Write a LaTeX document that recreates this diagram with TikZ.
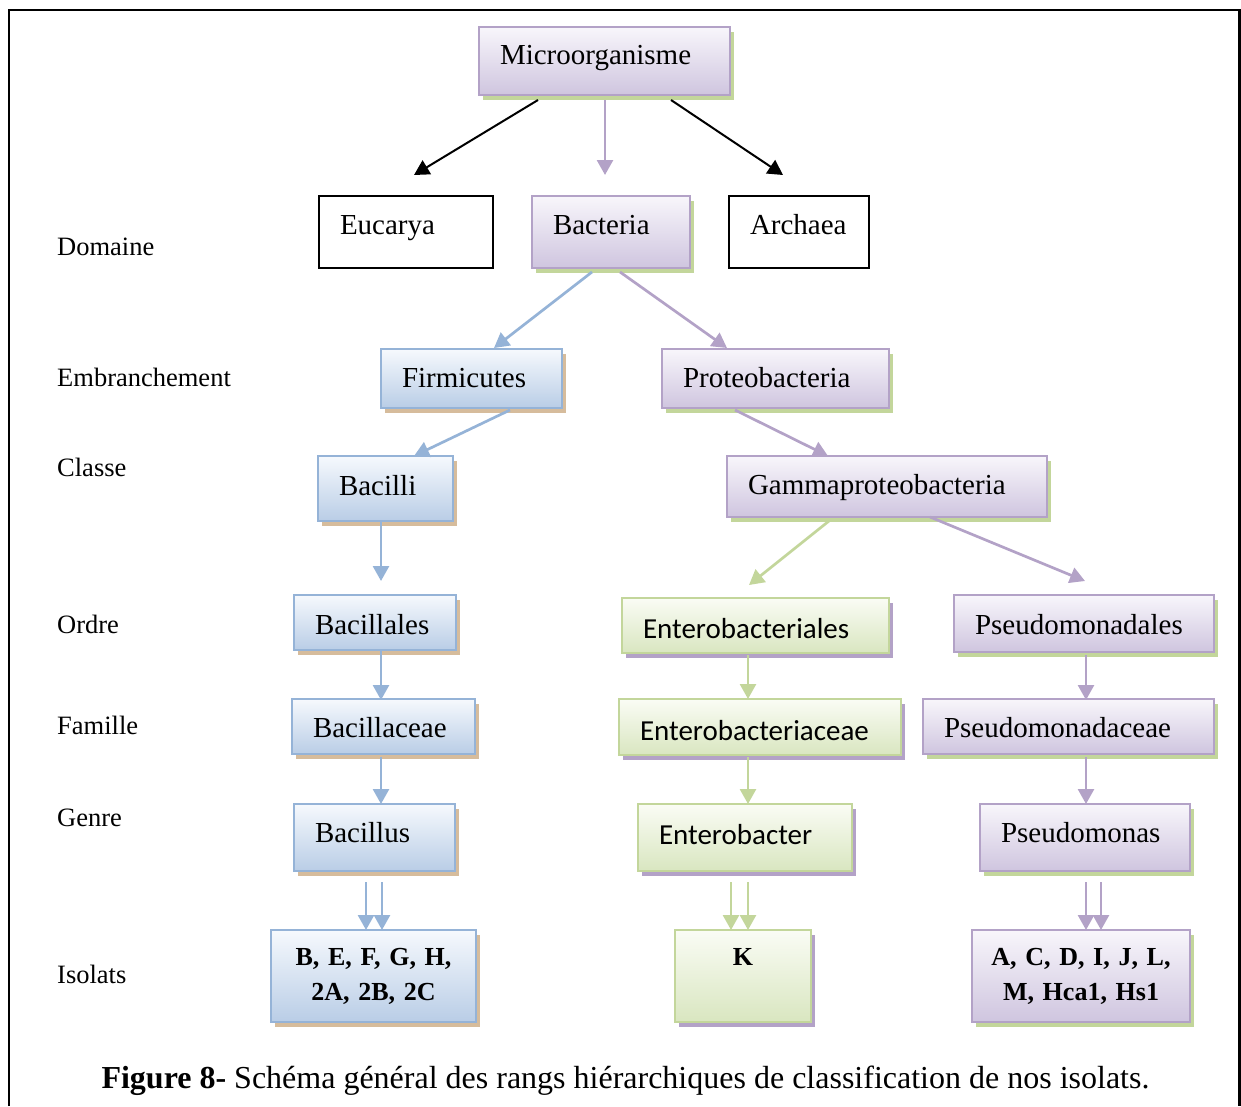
\documentclass[tikz,border=0pt]{standalone}
\usepackage{fontspec}
\setmainfont{Liberation Serif}
\newfontfamily\calibri{Carlito}
\usetikzlibrary{arrows.meta}

\definecolor{lilac}{HTML}{B3A2C7}
\definecolor{lilacHi}{HTML}{F8F6FB}
\definecolor{lilacLo}{HTML}{CFC5DF}
\definecolor{sky}{HTML}{95B3D7}
\definecolor{skyHi}{HTML}{F6F9FD}
\definecolor{skyLo}{HTML}{B9CDE6}
\definecolor{leaf}{HTML}{C3D69B}
\definecolor{leafHi}{HTML}{FAFCF5}
\definecolor{leafLo}{HTML}{D9E6C0}
\definecolor{sand}{HTML}{D6BC9C}

\tikzset{
  box/.style={draw, line width=2.5pt, anchor=north west, outer sep=0pt,
    inner xsep=21pt, inner ysep=0pt, align=left,
    text height=20pt, text depth=2pt, font=\fontsize{29}{34}\selectfont},
  dims/.style 2 args={text width=#1pt, minimum height=#2pt},
  low/.style={text height=#1pt, text depth=0pt},
  plainbox/.style={box, draw=black, line width=1.8pt, fill=white},
  lilacbox/.style={box, draw=lilac, top color=lilacHi, bottom color=lilacLo,
    preaction={fill=leaf, transform canvas={shift={(4pt,-5pt)}}}},
  skybox/.style={box, draw=sky, top color=skyHi, bottom color=skyLo,
    preaction={fill=sand, transform canvas={shift={(4pt,-5pt)}}}},
  leafbox/.style={box, draw=leaf, top color=leafHi, bottom color=leafLo,
    preaction={fill=lilac, transform canvas={shift={(4pt,-5pt)}}},
    font=\fontsize{29}{34}\calibri},
  isolat/.style={inner xsep=10pt, align=center, text height={}, text depth={},
    font=\fontsize{26}{35}\selectfont\bfseries},
  rank/.style={anchor=west, inner sep=0pt, font=\fontsize{26.5}{30}\selectfont},
  link/.style={->, line width=2.7pt},
  blk/.style={->, line width=2pt, black},
}

\begin{document}
\begin{tikzpicture}[x=1pt,y=-1pt,>={Triangle[width=16pt,length=15pt]}]
  \useasboundingbox (0,0) rectangle (1241,1106);
  \draw[line width=2.5pt] (9,1106) -- (9,10) -- (1239.5,10) -- (1239.5,1106);

  % rangs
  \node[rank] (domaine) at (57,247) {Domaine};
  \node[rank] (embr) at (57,377) {Embranchement};
  \node[rank] (classe) at (57,467) {Classe};
  \node[rank] (ordre) at (57,624) {Ordre};
  \node[rank] (famille) at (57,725) {Famille};
  \node[rank] (genre) at (57,818) {Genre};
  \node[rank] (isolats) at (57,974) {Isolats};

  % boites
  \node[lilacbox, dims={209}{68}, text depth=14pt] (micro) at (479,27) {Microorganisme};
  \node[plainbox, dims={132}{72}, text depth=16pt] (eucarya) at (319,196) {Eucarya};
  \node[lilacbox, dims={116}{72}, text depth=16pt] (bacteria) at (532,196) {Bacteria};
  \node[plainbox, dims={98}{72}, text depth=16pt] (archaea) at (729,196) {Archaea};
  \node[skybox, dims={139}{59}] (firmicutes) at (381,349) {Firmicutes};
  \node[lilacbox, dims={185}{59}] (proteo) at (662,349) {Proteobacteria};
  \node[skybox, dims={93}{65}, text depth=7pt] (bacilli) at (318,456) {Bacilli};
  \node[lilacbox, dims={278}{61}, text depth=5pt] (gamma) at (727,456) {Gammaproteobacteria};
  \node[skybox, dims={120}{55}, low=24] (bacillales) at (294,595) {Bacillales};
  \node[leafbox, dims={225}{55}, low=26] (enterales) at (622,598) {Enterobacteriales};
  \node[lilacbox, dims={218}{57}, low=22] (pseudales) at (954,595) {Pseudomonadales};
  \node[skybox, dims={141}{55}, low=22] (bacillaceae) at (292,699) {Bacillaceae};
  \node[leafbox, dims={240}{56}, low=27] (enteraceae) at (619,699) {Enterobacteriaceae};
  \node[lilacbox, dims={249}{55}, low=22] (pseudaceae) at (923,699) {Pseudomonadaceae};
  \node[skybox, dims={119}{67}, text depth=11pt] (bacillus) at (294,804) {Bacillus};
  \node[leafbox, dims={172}{67}, text depth=7pt] (enterobacter) at (638,804) {Enterobacter};
  \node[lilacbox, dims={168}{67}, text depth=11pt] (pseudomonas) at (980,804) {Pseudomonas};
  \node[skybox, isolat, dims={185}{92}] (isoBac) at (271,930) {B, E, F, G, H,\\2A, 2B, 2C};
  \node[leafbox, isolat, dims={116}{92}, text height=20pt, text depth=42pt] (isoEnt) at (675,930) {K};
  \node[lilacbox, isolat, dims={198}{92}] (isoPse) at (972,930) {A, C, D, I, J, L,\\M, Hca1, Hs1};

  % fleches
  \draw[blk] ([shift={(-66.5,5)}]micro.south) -- ([shift={(8,-21)}]eucarya.north);
  \draw[link, lilac] ([shift={(0.5,5)}]micro.south) -- ([shift={(-6,-21)}]bacteria.north);
  \draw[blk] ([shift={(66.5,5)}]micro.south) -- ([shift={(-16,-21)}]archaea.north);
  \draw[link, sky] ([shift={(-19,4)}]bacteria.south) -- ([shift={(22.5,-1)}]firmicutes.north);
  \draw[link, lilac] ([shift={(9,4)}]bacteria.south) -- ([shift={(-48.5,-1)}]proteo.north);
  \draw[link, sky] ([shift={(38.5,2)}]firmicutes.south) -- ([shift={(28.5,0)}]bacilli.north);
  \draw[link, lilac] ([shift={(-40.5,2)}]proteo.south) -- ([shift={(-59,0)}]gamma.north);
  \draw[link, sky] ([shift={(-4.5,1)}]bacilli.south) -- ([shift={(6,-14)}]bacillales.north);
  \draw[link, leaf] ([shift={(-58,4)}]gamma.south) -- ([shift={(-6.5,-13)}]enterales.north);
  \draw[link, lilac] ([shift={(43,0)}]gamma.south) -- ([shift={(1,-14)}]pseudales.north);
  \draw[link, sky] ([shift={(6,1)}]bacillales.south) -- ([shift={(-2.5,1)}]bacillaceae.north);
  \draw[link, leaf] ([shift={(-7.5,2)}]enterales.south) -- ([shift={(-12,0)}]enteraceae.north);
  \draw[link, lilac] ([shift={(2,3)}]pseudales.south) -- ([shift={(17.5,1)}]pseudaceae.north);
  \draw[link, sky] ([shift={(-2.5,3)}]bacillaceae.south) -- ([shift={(6.5,0)}]bacillus.north);
  \draw[link, leaf] ([shift={(-12,2)}]enteraceae.south) -- ([shift={(3,0)}]enterobacter.north);
  \draw[link, lilac] ([shift={(17.5,3)}]pseudaceae.south) -- ([shift={(1,0)}]pseudomonas.north);
  \foreach \dx in {-8.5,7.5}
    \draw[link, sky] ([shift={(\dx,11)}]bacillus.south) -- ([shift={(\dx+1,0)}]isoBac.north);
  \foreach \dx in {-14,3}
    \draw[link, leaf] ([shift={(\dx,11)}]enterobacter.south) -- ([shift={(\dx+2,0)}]isoEnt.north);
  \foreach \dx in {1,16}
    \draw[link, lilac] ([shift={(\dx,11)}]pseudomonas.south) -- ([shift={(\dx+4,0)}]isoPse.north);

  \node[anchor=base, inner sep=0pt, font=\fontsize{32}{36}\selectfont] (legend) at (625.5,1088)
    {\textbf{Figure 8-} Schéma général des rangs hiérarchiques de classification de nos isolats.};
\end{tikzpicture}
\end{document}
